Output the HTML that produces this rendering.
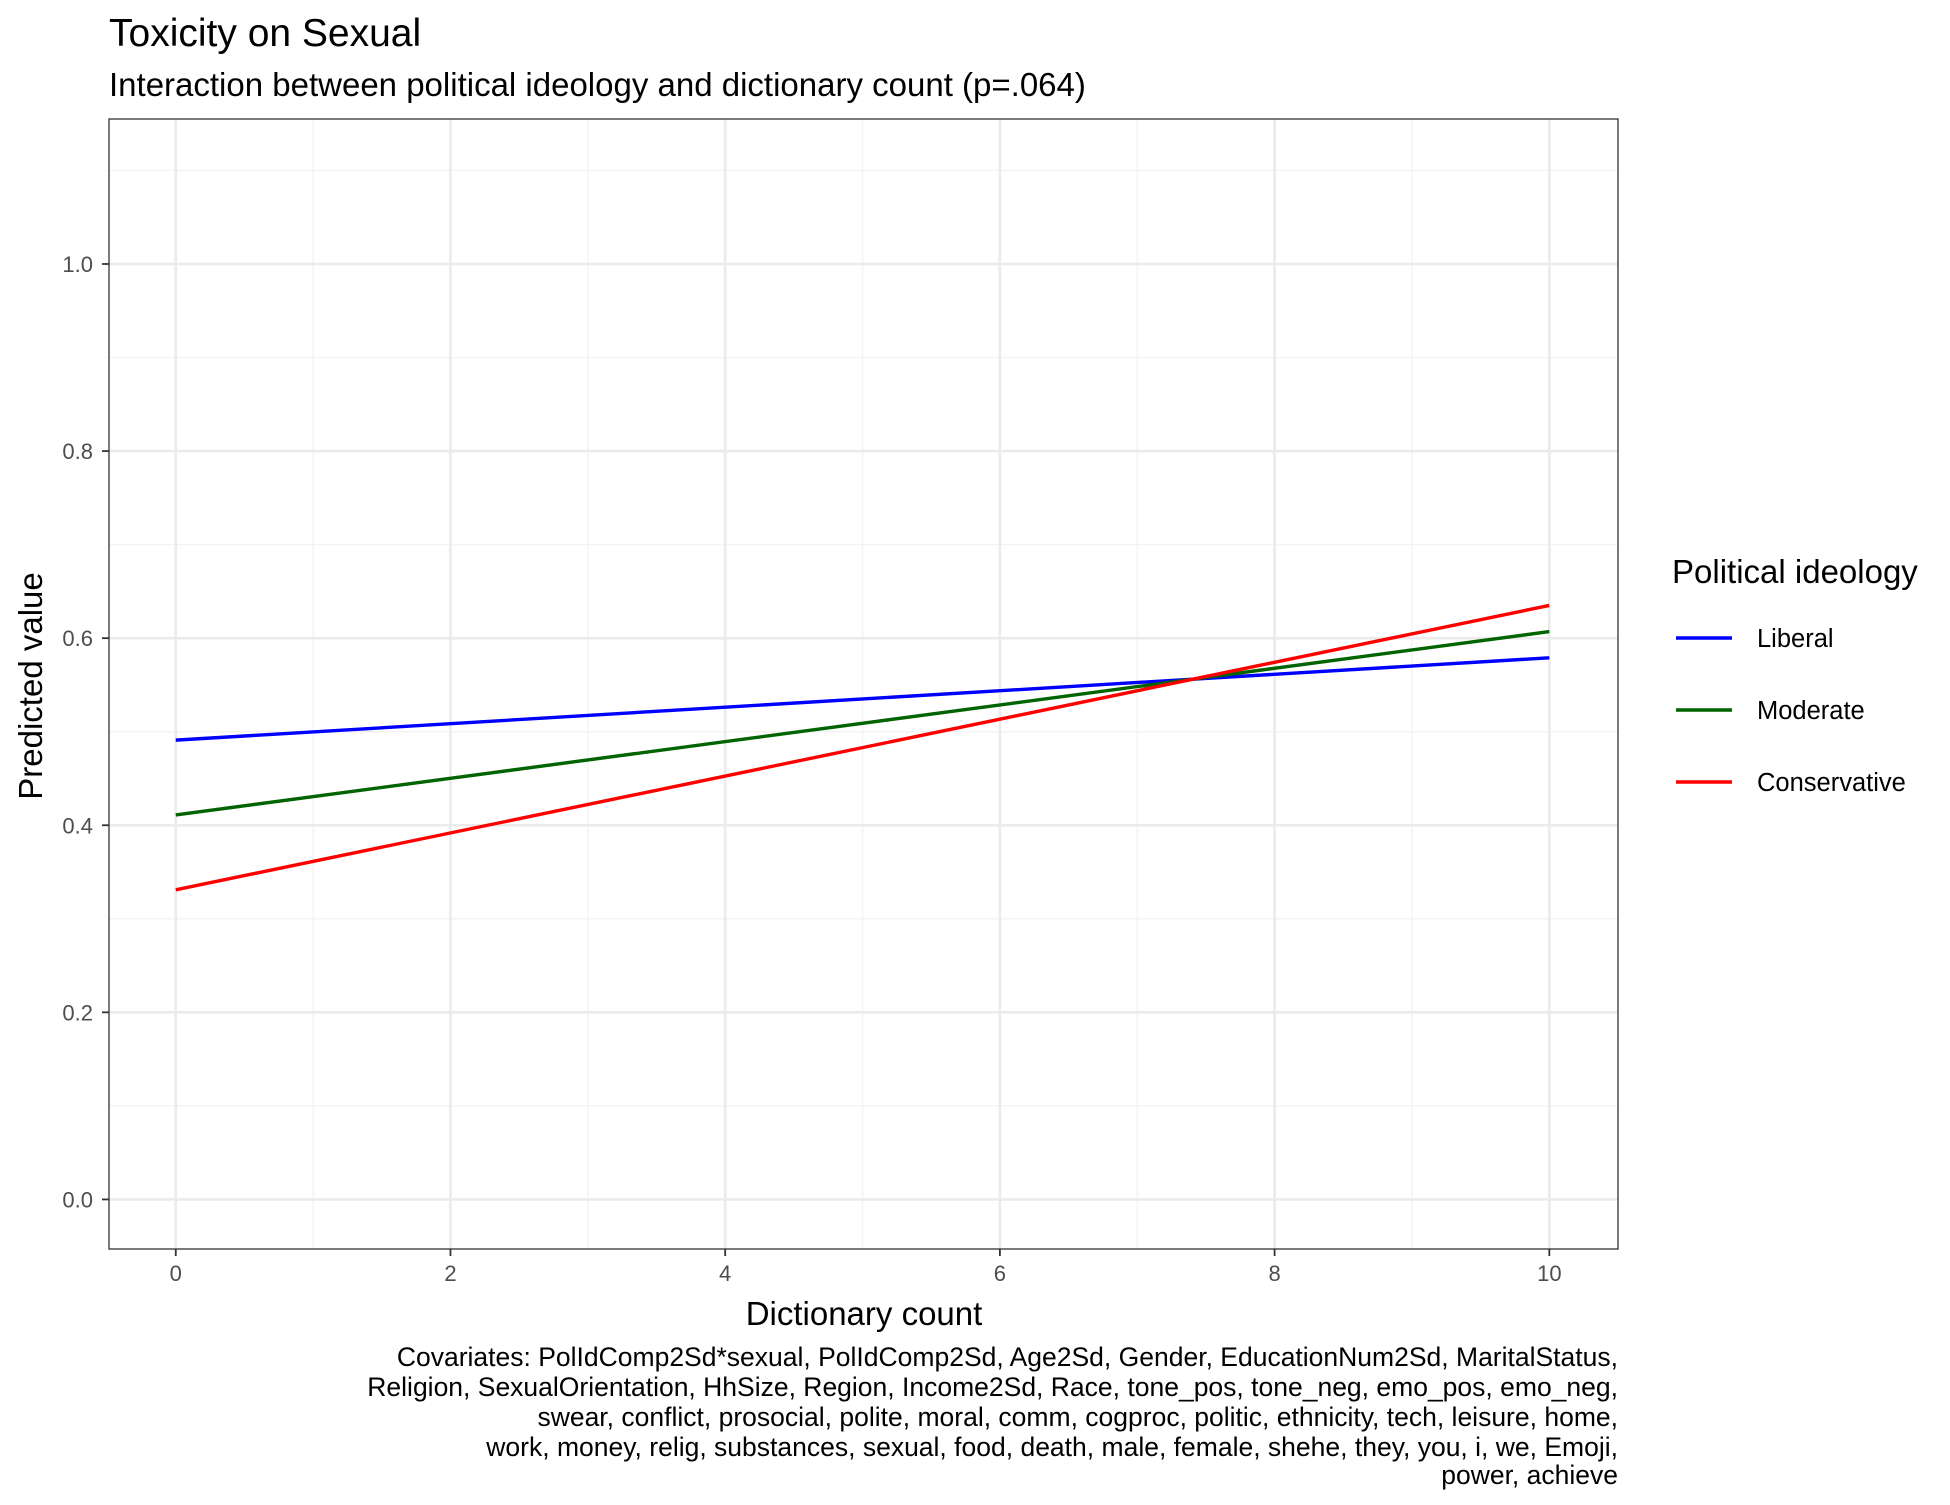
<!DOCTYPE html>
<html><head><meta charset="utf-8"><style>
body{margin:0;background:#fff;}
svg text{font-family:"Liberation Sans",Arial,sans-serif;}
</style></head><body>
<svg id="chart" width="1950" height="1500" xmlns="http://www.w3.org/2000/svg">
<rect width="1950" height="1500" fill="#fff"/>
<text x="109" y="46" font-size="39" fill="#000">Toxicity on Sexual</text>
<text x="109" y="96" font-size="33" fill="#000">Interaction between political ideology and dictionary count (p=.064)</text>
<g id="grid"></g>
<g id="series"></g>
<rect x="109" y="119" width="1509" height="1130" fill="none" stroke="#333" stroke-width="1.3"/>
<g id="axes"></g>
<text x="864" y="1325" font-size="33" text-anchor="middle" fill="#000">Dictionary count</text>
<text transform="translate(42,686) rotate(-90)" font-size="33" text-anchor="middle" fill="#000">Predicted value</text>
<g>
<text x="1672" y="583" font-size="33" fill="#000">Political ideology</text>
<g id="legend-entries"></g>
</g>
<g font-size="26.5" text-anchor="end" fill="#000">
<text x="1618" y="1366">Covariates: PolIdComp2Sd*sexual, PolIdComp2Sd, Age2Sd, Gender, EducationNum2Sd, MaritalStatus,</text>
<text x="1618" y="1396">Religion, SexualOrientation, HhSize, Region, Income2Sd, Race, tone_pos, tone_neg, emo_pos, emo_neg,</text>
<text x="1618" y="1426">swear, conflict, prosocial, polite, moral, comm, cogproc, politic, ethnicity, tech, leisure, home,</text>
<text x="1618" y="1456">work, money, relig, substances, sexual, food, death, male, female, shehe, they, you, i, we, Emoji,</text>
<text x="1618" y="1484">power, achieve</text>
</g>
</svg>
<script>
const xDomain=[-0.486,10.5];
const yDomain=[-0.053,1.155];
const xTicks=[0,2,4,6,8,10];
const xMinor=[1,3,5,7,9];
const yTicks=[0,0.2,0.4,0.6,0.8,1.0];
const yTickLabels=["0.0","0.2","0.4","0.6","0.8","1.0"];
const yMinor=[0.1,0.3,0.5,0.7,0.9,1.1];
const seriesNames=["Liberal","Moderate","Conservative"];
const seriesColors=["#0000ff","#006400","#ff0000"];
const xValues=[0,10];
const liberal=[0.491,0.579];
const moderate=[0.411,0.607];
const conservative=[0.331,0.635];
const allSeries=[liberal,moderate,conservative];
const L=109,R=1618,T=119,B=1249;
const sx=v=>L+(v-xDomain[0])/(xDomain[1]-xDomain[0])*(R-L);
const sy=v=>B-(v-yDomain[0])/(yDomain[1]-yDomain[0])*(B-T);
const NS="http://www.w3.org/2000/svg";
function mk(tag,attrs,parent){const e=document.createElementNS(NS,tag);for(const k in attrs)e.setAttribute(k,attrs[k]);parent.appendChild(e);return e;}
const grid=document.getElementById('grid'),axes=document.getElementById('axes'),ser=document.getElementById('series'),leg=document.getElementById('legend-entries');
xMinor.forEach(v=>{const e=mk('line',{x1:sx(v),x2:sx(v),y1:T,y2:B,stroke:'#f2f2f2','stroke-width':1.3},grid);});
yMinor.forEach(v=>{const e=mk('line',{x1:L,x2:R,y1:sy(v),y2:sy(v),stroke:'#f2f2f2','stroke-width':1.3},grid);});
xTicks.forEach(v=>{const e=mk('line',{x1:sx(v),x2:sx(v),y1:T,y2:B,stroke:'#ebebeb','stroke-width':2.6},grid);
const t=mk('line',{x1:sx(v),x2:sx(v),y1:B,y2:B+7,stroke:'#333','stroke-width':1.8},axes);
const l=mk('text',{x:sx(v),y:B+32,'font-size':22,'text-anchor':'middle',fill:'#4d4d4d'},axes);l.textContent=String(v);});
yTicks.forEach((v,i)=>{const e=mk('line',{x1:L,x2:R,y1:sy(v),y2:sy(v),stroke:'#ebebeb','stroke-width':2.6},grid);
const t=mk('line',{x1:L-7,x2:L,y1:sy(v),y2:sy(v),stroke:'#333','stroke-width':1.8},axes);
const l=mk('text',{x:L-16,y:sy(v)+8,'font-size':22,'text-anchor':'end',fill:'#4d4d4d'},axes);l.textContent=yTickLabels[i];});
allSeries.forEach((s,i)=>{const pts=s.map((v,j)=>sx(xValues[j])+','+sy(v)).join(' ');
const p=mk('polyline',{points:pts,fill:'none',stroke:seriesColors[i],'stroke-width':3.4},ser);
const y=638+i*72;
const k=mk('line',{x1:1676,x2:1732,y1:y,y2:y,stroke:seriesColors[i],'stroke-width':3.4},leg);
const t=mk('text',{x:1757,y:y+9,'font-size':25.5,fill:'#000'},leg);t.textContent=seriesNames[i];});
</script>
</body></html>
